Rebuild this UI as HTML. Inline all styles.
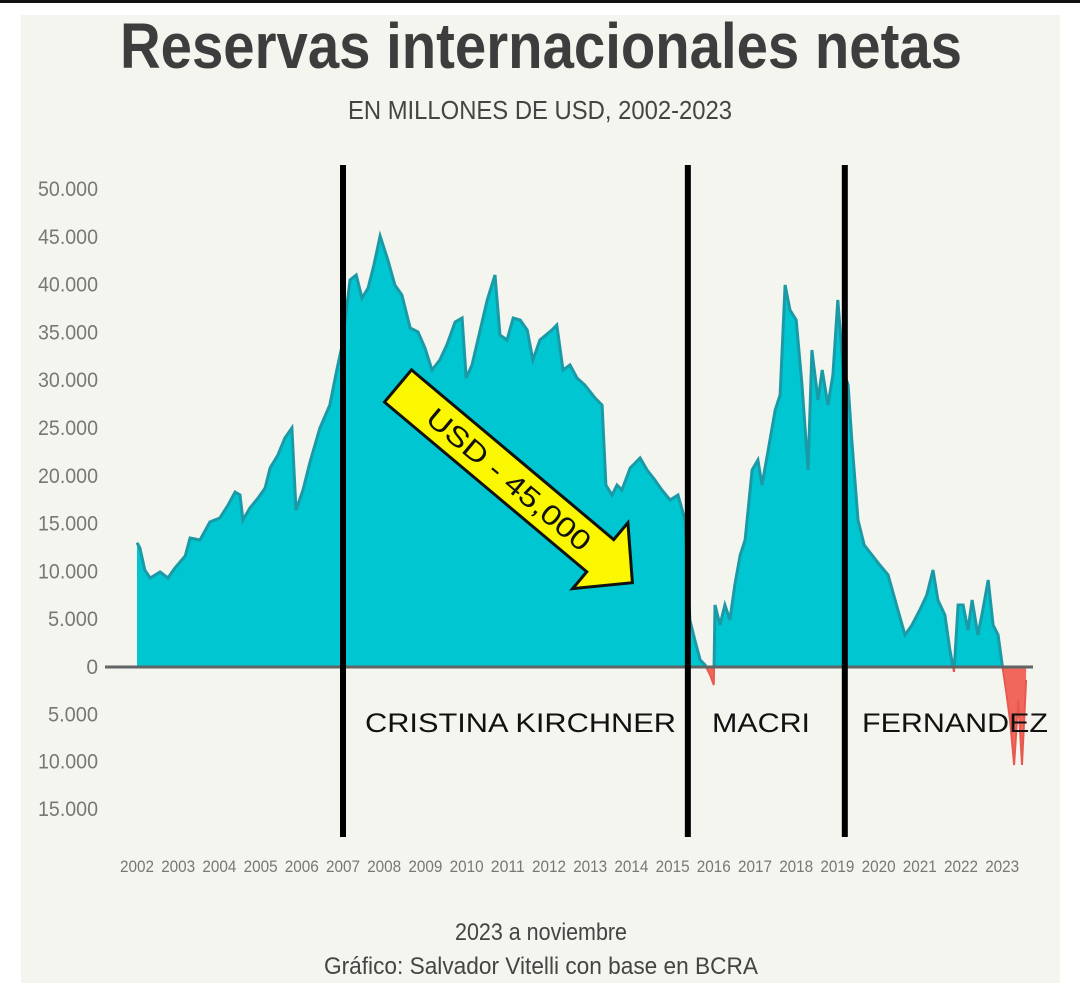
<!DOCTYPE html>
<html><head><meta charset="utf-8"><style>
html,body{margin:0;padding:0;background:#fff;width:1080px;height:1004px;overflow:hidden}
svg{display:block}
.n{font-family:"Liberation Sans Narrow","Liberation Sans",sans-serif}
.s{font-family:"Liberation Sans",sans-serif}
</style></head><body>
<svg id="chart" width="1080" height="1004" viewBox="0 0 1080 1004">
<rect x="0" y="0" width="1080" height="3" fill="#111"/>
<rect x="21" y="15" width="1039" height="968" fill="#f5f5ef"/>
<text x="541" y="68" text-anchor="middle" class="n" font-weight="bold" font-size="64" fill="#3d3d3d" textLength="842" lengthAdjust="spacingAndGlyphs">Reservas internacionales netas</text>
<text x="540" y="119" text-anchor="middle" class="n" font-size="26" fill="#444" textLength="384" lengthAdjust="spacingAndGlyphs">EN MILLONES DE USD, 2002-2023</text>
<g id="yaxis"></g>
<g id="xaxis"></g>
<defs>
<clipPath id="above"><rect x="0" y="0" width="1080" height="667"/></clipPath>
<clipPath id="below"><rect x="0" y="667" width="1080" height="400"/></clipPath>
</defs>
<g id="series"></g>
<g id="periods"></g>
<g transform="translate(398,386) rotate(40)">
<polygon points="0,-21 264,-21 264,-43 306,0 264,43 264,21 0,21" fill="#fbf700" stroke="#111" stroke-width="3" stroke-linejoin="miter"/>
<text x="145" y="10" text-anchor="middle" class="s" font-size="28" fill="#111" textLength="205" lengthAdjust="spacingAndGlyphs">USD - 45,000</text>
</g>
<text x="541" y="940" text-anchor="middle" class="n" font-size="24" fill="#444" textLength="172" lengthAdjust="spacingAndGlyphs">2023 a noviembre</text>
<text x="541" y="974" text-anchor="middle" class="n" font-size="24" fill="#444" textLength="434" lengthAdjust="spacingAndGlyphs">Gráfico: Salvador Vitelli con base en BCRA</text>
</svg>
<script>
const yTicks=[50000,45000,40000,35000,30000,25000,20000,15000,10000,5000,0,-5000,-10000,-15000];
const yTickLabels=["50.000","45.000","40.000","35.000","30.000","25.000","20.000","15.000","10.000","5.000","0","5.000","10.000","15.000"];
const years=[2002,2003,2004,2005,2006,2007,2008,2009,2010,2011,2012,2013,2014,2015,2016,2017,2018,2019,2020,2021,2022,2023];
const dates=[2002.0,2002.07,2002.19,2002.32,2002.56,2002.75,2002.92,2003.17,2003.29,2003.53,2003.77,2004.01,2004.21,2004.38,2004.5,2004.57,2004.74,2004.94,2005.11,2005.23,2005.42,2005.59,2005.76,2005.86,2006.03,2006.2,2006.44,2006.68,2006.85,2006.98,2007.17,2007.32,2007.46,2007.61,2007.75,2007.9,2008.09,2008.26,2008.43,2008.63,2008.82,2008.99,2009.16,2009.35,2009.52,2009.72,2009.89,2009.99,2010.13,2010.33,2010.5,2010.69,2010.81,2010.98,2011.13,2011.3,2011.47,2011.61,2011.78,2012.07,2012.19,2012.34,2012.51,2012.68,2012.87,2013.12,2013.29,2013.38,2013.53,2013.65,2013.77,2013.97,2014.21,2014.38,2014.57,2014.74,2014.94,2015.13,2015.3,2015.42,2015.54,2015.67,2015.79,2015.91,2016.0,2016.03,2016.15,2016.27,2016.39,2016.51,2016.64,2016.76,2016.93,2017.07,2017.17,2017.32,2017.49,2017.61,2017.73,2017.85,2018.0,2018.14,2018.29,2018.38,2018.53,2018.63,2018.77,2018.89,2019.01,2019.14,2019.26,2019.35,2019.5,2019.65,2019.84,2020.03,2020.23,2020.4,2020.64,2020.81,2021.0,2021.17,2021.32,2021.44,2021.61,2021.73,2021.83,2021.93,2022.05,2022.17,2022.27,2022.41,2022.53,2022.66,2022.78,2022.9,2023.0,2023.09,2023.19,2023.29,2023.39,2023.48,2023.58];
const reserves=[13000,12450,10150,9310,9940,9310,10360,11610,13490,13280,15170,15590,16950,18300,18000,15380,16630,17680,18720,20820,22180,23950,25000,16420,18510,21440,25000,27400,31070,33680,40480,41000,38600,39640,42050,45080,42570,39960,38910,35460,35040,33370,31070,32110,33680,36090,36510,30230,31590,35250,38390,41000,34730,34200,36510,36300,35250,32110,34200,35250,35770,31070,31590,30230,29500,28140,27400,19040,17990,19040,18510,20820,21860,20610,19560,18510,17470,17990,15380,4920,2820,730,210,-840,-1880,6490,4390,6490,4920,8580,11720,13280,20610,21650,19040,22700,26880,28450,39960,37340,36300,29500,20610,33160,27930,31070,27400,30540,38390,31070,29500,23740,15380,12760,11720,10670,9620,7010,3350,4390,5960,7530,10150,7010,5440,1780,-520,6490,6490,3870,7010,3350,5960,9100,4390,3350,210,-2400,-5540,-10250,-3450,-10250,-1360];
const periodDates=[2007.0,2015.37,2019.18];
const periodNames=["CRISTINA KIRCHNER","MACRI","FERNANDEZ"];

const NS="http://www.w3.org/2000/svg";
const X0=137,XW=41.2,Y0=667,YK=47.8/5000;
const xs=t=>X0+(t-2002)*XW;
const ys=v=>Y0-v*YK;
function mk(tag,attrs,parent){const e=document.createElementNS(NS,tag);for(const k in attrs)e.setAttribute(k,attrs[k]);parent.appendChild(e);return e;}

const ya=document.getElementById('yaxis');
yTicks.forEach((v,i)=>{
  const yy=v<0?Y0-v*YK*0.99:ys(v);
  const lbl=yTickLabels[i];
  const attrs={x:98,y:yy+7,'text-anchor':'end','font-size':21,fill:'#777',class:'n'};
  if(lbl.length>1){attrs.textLength=lbl.length*10;attrs.lengthAdjust='spacingAndGlyphs';}
  const t=mk('text',attrs,ya);
  
  
  t.textContent=lbl;
});
const xa=document.getElementById('xaxis');
years.forEach(y=>{
  const t=mk('text',{x:xs(y),y:872,'text-anchor':'middle','font-size':17,fill:'#777',class:'n',textLength:34,lengthAdjust:'spacingAndGlyphs'},xa);
  
  
  t.textContent=y;
});

const sg=document.getElementById('series');
let line="";
dates.forEach((d,i)=>{line+=(i?"L":"M")+xs(d).toFixed(1)+","+ys(reserves[i]).toFixed(1);});
const area=line+"L"+xs(dates[dates.length-1]).toFixed(1)+","+Y0+"L"+xs(dates[0]).toFixed(1)+","+Y0+"Z";
const a1=mk('path',{d:area,fill:'#00c6d1','clip-path':'url(#above)'},sg);


const a2=mk('path',{d:area,fill:'#f2675c','clip-path':'url(#below)'},sg);


const l1=mk('path',{d:line,fill:'none',stroke:'#1a9aa6','stroke-width':3,'clip-path':'url(#above)'},sg);


const l2=mk('path',{d:line,fill:'none',stroke:'#e85a50','stroke-width':2,'clip-path':'url(#below)'},sg);


const zl=mk('line',{x1:105,x2:1033,y1:Y0,y2:Y0,stroke:'#5f6464','stroke-width':3},sg);



const pg=document.getElementById('periods');
periodDates.forEach((d,i)=>{
  const x=xs(d);
  const ln=mk('line',{x1:x,x2:x,y1:165,y2:837,stroke:'#000','stroke-width':6},pg);
  
  
});
const labelX=[365,712,862],labelW=[311,98,186];
periodNames.forEach((n,i)=>{
  const t=mk('text',{x:labelX[i],y:732,'font-size':27,fill:'#111',class:'s',textLength:labelW[i],lengthAdjust:'spacingAndGlyphs'},pg);
  
  
  t.textContent=n;
});
</script>
</body></html>
